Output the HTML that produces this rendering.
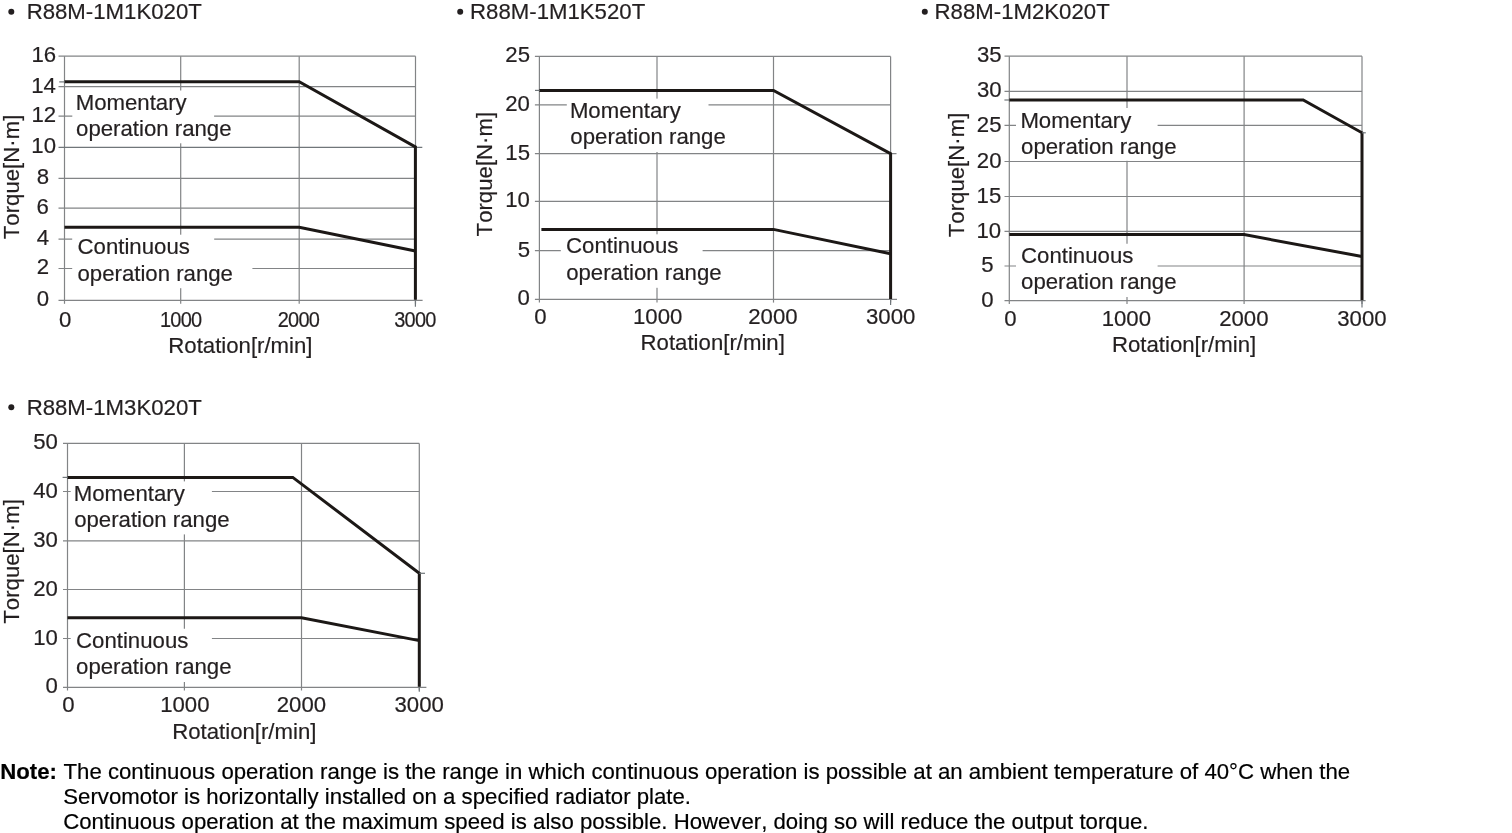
<!DOCTYPE html>
<html><head><meta charset="utf-8"><title>Torque characteristics</title>
<style>
html,body{margin:0;padding:0;background:#fff;}
body{width:1512px;height:833px;overflow:hidden;font-family:"Liberation Sans", sans-serif;}
svg{display:block;font-family:"Liberation Sans", sans-serif;will-change:transform;}
text{font-family:"Liberation Sans", sans-serif;font-kerning:none;stroke-width:0.2px;paint-order:stroke fill;}
</style></head><body>
<svg width="1512" height="833" viewBox="0 0 1512 833">
<rect width="1512" height="833" fill="#fff"/>
<circle cx="11.3" cy="11.8" r="3.0" fill="#231f20"/>
<circle cx="460.2" cy="11.8" r="3.0" fill="#231f20"/>
<circle cx="924.8" cy="11.8" r="3.0" fill="#231f20"/>
<circle cx="11.3" cy="407.3" r="3.0" fill="#231f20"/>
<line x1="64.50" y1="56.20" x2="64.50" y2="303.80" stroke="#828486" stroke-width="1.2"/>
<line x1="180.70" y1="56.20" x2="180.70" y2="303.80" stroke="#828486" stroke-width="1.2"/>
<line x1="299.20" y1="56.20" x2="299.20" y2="303.80" stroke="#828486" stroke-width="1.2"/>
<line x1="415.50" y1="56.20" x2="415.50" y2="303.80" stroke="#828486" stroke-width="1.2"/>
<line x1="58.50" y1="56.20" x2="415.50" y2="56.20" stroke="#828486" stroke-width="1.2"/>
<line x1="58.50" y1="86.65" x2="415.50" y2="86.65" stroke="#828486" stroke-width="1.2"/>
<line x1="58.50" y1="116.15" x2="415.50" y2="116.15" stroke="#828486" stroke-width="1.2"/>
<line x1="58.50" y1="147.35" x2="422.30" y2="147.35" stroke="#70767a" stroke-width="1.2"/>
<line x1="58.50" y1="178.35" x2="415.50" y2="178.35" stroke="#828486" stroke-width="1.2"/>
<line x1="58.50" y1="208.05" x2="415.50" y2="208.05" stroke="#828486" stroke-width="1.2"/>
<line x1="58.50" y1="239.20" x2="415.50" y2="239.20" stroke="#828486" stroke-width="1.2"/>
<line x1="58.50" y1="268.50" x2="415.50" y2="268.50" stroke="#828486" stroke-width="1.2"/>
<line x1="58.50" y1="300.30" x2="422.60" y2="300.30" stroke="#828486" stroke-width="1.2"/>
<rect x="72.3" y="90.5" width="141.8" height="52.8" fill="#fff"/>
<rect x="72.2" y="234.7" width="142" height="28" fill="#fff"/>
<rect x="72.2" y="262" width="180.2" height="26.2" fill="#fff"/>
<polyline points="64.5,81.8 299.2,81.8 415.4,146.9 415.4,299.7" fill="none" stroke="#1c1816" stroke-width="3" stroke-linejoin="miter"/>
<polyline points="64.5,227.2 299.2,227.2 415.4,251" fill="none" stroke="#1c1816" stroke-width="3" stroke-linejoin="miter"/>
<text x="26.68" y="19.20" font-size="22.2" fill="#231f20" stroke="#231f20">R88M-1M1K020T</text>
<text x="75.68" y="109.60" font-size="22.2" fill="#231f20" stroke="#231f20">Momentary</text>
<text x="76.07" y="135.80" font-size="22.2" fill="#231f20" stroke="#231f20">operation range</text>
<text x="77.57" y="254.30" font-size="22.2" fill="#231f20" stroke="#231f20">Continuous</text>
<text x="77.47" y="280.60" font-size="22.2" fill="#231f20" stroke="#231f20">operation range</text>
<text x="19.00" y="239.20" font-size="22.2" fill="#231f20" stroke="#231f20" transform="rotate(-90 19.00 239.20)">Torque[N·m]</text>
<text x="168.28" y="352.60" font-size="22.2" fill="#231f20" stroke="#231f20">Rotation[r/min]</text>
<text x="31.40" y="62.10" font-size="22.2" fill="#231f20" stroke="#231f20">16</text>
<text x="31.23" y="92.55" font-size="22.2" fill="#231f20" stroke="#231f20">14</text>
<text x="31.47" y="122.05" font-size="22.2" fill="#231f20" stroke="#231f20">12</text>
<text x="31.34" y="153.25" font-size="22.2" fill="#231f20" stroke="#231f20">10</text>
<text x="36.63" y="184.25" font-size="22.2" fill="#231f20" stroke="#231f20">8</text>
<text x="36.55" y="213.95" font-size="22.2" fill="#231f20" stroke="#231f20">6</text>
<text x="36.70" y="245.10" font-size="22.2" fill="#231f20" stroke="#231f20">4</text>
<text x="36.63" y="274.40" font-size="22.2" fill="#231f20" stroke="#231f20">2</text>
<text x="36.63" y="306.20" font-size="22.2" fill="#231f20" stroke="#231f20">0</text>
<text x="58.93" y="326.70" font-size="22.2" fill="#231f20" stroke="#231f20">0</text>
<text transform="translate(159.93 326.70) scale(0.9 1)" font-size="22.2" fill="#231f20" stroke="#231f20" letter-spacing="-0.833">1000</text>
<text transform="translate(277.74 326.70) scale(0.9 1)" font-size="22.2" fill="#231f20" stroke="#231f20" letter-spacing="-0.833">2000</text>
<text transform="translate(394.26 326.70) scale(0.9 1)" font-size="22.2" fill="#231f20" stroke="#231f20" letter-spacing="-0.833">3000</text>
<line x1="539.40" y1="56.40" x2="539.40" y2="302.60" stroke="#828486" stroke-width="1.2"/>
<line x1="657.00" y1="56.40" x2="657.00" y2="302.60" stroke="#828486" stroke-width="1.2"/>
<line x1="773.50" y1="56.40" x2="773.50" y2="302.60" stroke="#828486" stroke-width="1.2"/>
<line x1="890.60" y1="56.40" x2="890.60" y2="302.60" stroke="#828486" stroke-width="1.2"/>
<line x1="534.90" y1="56.40" x2="890.60" y2="56.40" stroke="#828486" stroke-width="1.2"/>
<line x1="534.90" y1="104.80" x2="890.60" y2="104.80" stroke="#828486" stroke-width="1.2"/>
<line x1="534.90" y1="153.70" x2="896.50" y2="153.70" stroke="#828486" stroke-width="1.2"/>
<line x1="534.90" y1="201.40" x2="890.60" y2="201.40" stroke="#828486" stroke-width="1.2"/>
<line x1="534.90" y1="250.70" x2="890.60" y2="250.70" stroke="#828486" stroke-width="1.2"/>
<line x1="534.90" y1="299.40" x2="897.00" y2="299.40" stroke="#828486" stroke-width="1.2"/>
<rect x="566.8" y="98.6" width="141.7" height="53.4" fill="#fff"/>
<rect x="560.8" y="234.3" width="141.8" height="53.5" fill="#fff"/>
<polyline points="539.4,90.5 773.5,90.5 890.6,153.7 890.6,299" fill="none" stroke="#1c1816" stroke-width="3" stroke-linejoin="miter"/>
<polyline points="541.4,229.4 773.5,229.4 890.6,253.8" fill="none" stroke="#1c1816" stroke-width="3" stroke-linejoin="miter"/>
<text x="470.08" y="19.10" font-size="22.2" fill="#231f20" stroke="#231f20">R88M-1M1K520T</text>
<text x="569.88" y="117.90" font-size="22.2" fill="#231f20" stroke="#231f20">Momentary</text>
<text x="570.37" y="144.30" font-size="22.2" fill="#231f20" stroke="#231f20">operation range</text>
<text x="566.07" y="253.40" font-size="22.2" fill="#231f20" stroke="#231f20">Continuous</text>
<text x="566.17" y="280.00" font-size="22.2" fill="#231f20" stroke="#231f20">operation range</text>
<text x="491.60" y="236.40" font-size="22.2" fill="#231f20" stroke="#231f20" transform="rotate(-90 491.60 236.40)">Torque[N·m]</text>
<text x="640.58" y="350.10" font-size="22.2" fill="#231f20" stroke="#231f20">Rotation[r/min]</text>
<text x="505.34" y="62.40" font-size="22.2" fill="#231f20" stroke="#231f20">25</text>
<text x="505.27" y="110.80" font-size="22.2" fill="#231f20" stroke="#231f20">20</text>
<text x="505.34" y="159.70" font-size="22.2" fill="#231f20" stroke="#231f20">15</text>
<text x="505.27" y="207.40" font-size="22.2" fill="#231f20" stroke="#231f20">10</text>
<text x="517.69" y="256.70" font-size="22.2" fill="#231f20" stroke="#231f20">5</text>
<text x="517.62" y="305.40" font-size="22.2" fill="#231f20" stroke="#231f20">0</text>
<text x="534.23" y="323.75" font-size="22.2" fill="#231f20" stroke="#231f20">0</text>
<text x="632.99" y="323.75" font-size="22.2" fill="#231f20" stroke="#231f20">1000</text>
<text x="748.23" y="323.75" font-size="22.2" fill="#231f20" stroke="#231f20">2000</text>
<text x="865.97" y="323.75" font-size="22.2" fill="#231f20" stroke="#231f20">3000</text>
<line x1="1009.30" y1="56.20" x2="1009.30" y2="303.90" stroke="#828486" stroke-width="1.2"/>
<line x1="1127.00" y1="56.20" x2="1127.00" y2="303.90" stroke="#828486" stroke-width="1.2"/>
<line x1="1244.10" y1="56.20" x2="1244.10" y2="303.90" stroke="#828486" stroke-width="1.2"/>
<line x1="1362.00" y1="56.20" x2="1362.00" y2="303.90" stroke="#828486" stroke-width="1.2"/>
<line x1="1004.50" y1="56.20" x2="1362.00" y2="56.20" stroke="#828486" stroke-width="1.2"/>
<line x1="1004.50" y1="91.30" x2="1362.00" y2="91.30" stroke="#828486" stroke-width="1.2"/>
<line x1="1004.50" y1="125.40" x2="1362.00" y2="125.40" stroke="#828486" stroke-width="1.2"/>
<line x1="1004.50" y1="161.50" x2="1362.00" y2="161.50" stroke="#828486" stroke-width="1.2"/>
<line x1="1004.50" y1="196.50" x2="1362.00" y2="196.50" stroke="#828486" stroke-width="1.2"/>
<line x1="1004.50" y1="231.40" x2="1362.00" y2="231.40" stroke="#828486" stroke-width="1.2"/>
<line x1="1004.50" y1="266.00" x2="1362.00" y2="266.00" stroke="#828486" stroke-width="1.2"/>
<line x1="1004.50" y1="300.70" x2="1365.60" y2="300.70" stroke="#828486" stroke-width="1.2"/>
<rect x="1016" y="108" width="141.6" height="52.8" fill="#fff"/>
<rect x="1016" y="243.75" width="141.6" height="53.25" fill="#fff"/>
<polyline points="1009.3,100 1303.2,100 1362,132.8 1362,300.2" fill="none" stroke="#1c1816" stroke-width="3" stroke-linejoin="miter"/>
<polyline points="1009.3,234.6 1244.1,234.6 1362,256.5" fill="none" stroke="#1c1816" stroke-width="3" stroke-linejoin="miter"/>
<text x="934.58" y="19.10" font-size="22.2" fill="#231f20" stroke="#231f20">R88M-1M2K020T</text>
<text x="1020.38" y="127.50" font-size="22.2" fill="#231f20" stroke="#231f20">Momentary</text>
<text x="1021.07" y="153.90" font-size="22.2" fill="#231f20" stroke="#231f20">operation range</text>
<text x="1021.07" y="262.80" font-size="22.2" fill="#231f20" stroke="#231f20">Continuous</text>
<text x="1021.07" y="289.20" font-size="22.2" fill="#231f20" stroke="#231f20">operation range</text>
<text x="963.60" y="237.20" font-size="22.2" fill="#231f20" stroke="#231f20" transform="rotate(-90 963.60 237.20)">Torque[N·m]</text>
<text x="1111.93" y="351.90" font-size="22.2" fill="#231f20" stroke="#231f20">Rotation[r/min]</text>
<text x="977.00" y="62.30" font-size="22.2" fill="#231f20" stroke="#231f20">35</text>
<text x="976.96" y="97.40" font-size="22.2" fill="#231f20" stroke="#231f20">30</text>
<text x="976.86" y="131.50" font-size="22.2" fill="#231f20" stroke="#231f20">25</text>
<text x="976.83" y="167.60" font-size="22.2" fill="#231f20" stroke="#231f20">20</text>
<text x="976.57" y="202.60" font-size="22.2" fill="#231f20" stroke="#231f20">15</text>
<text x="976.54" y="237.50" font-size="22.2" fill="#231f20" stroke="#231f20">10</text>
<text x="981.35" y="272.10" font-size="22.2" fill="#231f20" stroke="#231f20">5</text>
<text x="981.33" y="306.80" font-size="22.2" fill="#231f20" stroke="#231f20">0</text>
<text x="1004.23" y="325.80" font-size="22.2" fill="#231f20" stroke="#231f20">0</text>
<text x="1101.69" y="325.80" font-size="22.2" fill="#231f20" stroke="#231f20">1000</text>
<text x="1219.13" y="325.80" font-size="22.2" fill="#231f20" stroke="#231f20">2000</text>
<text x="1337.22" y="325.80" font-size="22.2" fill="#231f20" stroke="#231f20">3000</text>
<line x1="67.50" y1="443.40" x2="67.50" y2="690.50" stroke="#828486" stroke-width="1.2"/>
<line x1="184.40" y1="443.40" x2="184.40" y2="690.50" stroke="#828486" stroke-width="1.2"/>
<line x1="301.50" y1="443.40" x2="301.50" y2="690.50" stroke="#828486" stroke-width="1.2"/>
<line x1="419.30" y1="443.40" x2="419.30" y2="690.50" stroke="#828486" stroke-width="1.2"/>
<line x1="63.00" y1="443.40" x2="419.30" y2="443.40" stroke="#828486" stroke-width="1.2"/>
<line x1="63.00" y1="491.50" x2="419.30" y2="491.50" stroke="#828486" stroke-width="1.2"/>
<line x1="63.00" y1="540.90" x2="419.30" y2="540.90" stroke="#828486" stroke-width="1.2"/>
<line x1="63.00" y1="589.50" x2="419.30" y2="589.50" stroke="#828486" stroke-width="1.2"/>
<line x1="63.00" y1="638.50" x2="419.30" y2="638.50" stroke="#828486" stroke-width="1.2"/>
<line x1="63.00" y1="687.30" x2="426.40" y2="687.30" stroke="#828486" stroke-width="1.2"/>
<rect x="70.7" y="481.4" width="141.2" height="53" fill="#fff"/>
<rect x="70.7" y="628.75" width="141.2" height="53.25" fill="#fff"/>
<polyline points="67.5,477.4 292.8,477.4 419.3,573.3 419.3,686.8" fill="none" stroke="#1c1816" stroke-width="3" stroke-linejoin="miter"/>
<polyline points="67.5,617.7 301.5,617.7 419.3,640.6" fill="none" stroke="#1c1816" stroke-width="3" stroke-linejoin="miter"/>
<text x="26.68" y="414.70" font-size="22.2" fill="#231f20" stroke="#231f20">R88M-1M3K020T</text>
<text x="73.78" y="500.80" font-size="22.2" fill="#231f20" stroke="#231f20">Momentary</text>
<text x="74.17" y="527.10" font-size="22.2" fill="#231f20" stroke="#231f20">operation range</text>
<text x="76.07" y="647.80" font-size="22.2" fill="#231f20" stroke="#231f20">Continuous</text>
<text x="76.07" y="674.20" font-size="22.2" fill="#231f20" stroke="#231f20">operation range</text>
<text x="19.00" y="623.70" font-size="22.2" fill="#231f20" stroke="#231f20" transform="rotate(-90 19.00 623.70)">Torque[N·m]</text>
<text x="172.18" y="738.75" font-size="22.2" fill="#231f20" stroke="#231f20">Rotation[r/min]</text>
<text x="33.17" y="449.40" font-size="22.2" fill="#231f20" stroke="#231f20">50</text>
<text x="33.17" y="497.50" font-size="22.2" fill="#231f20" stroke="#231f20">40</text>
<text x="33.17" y="546.90" font-size="22.2" fill="#231f20" stroke="#231f20">30</text>
<text x="33.17" y="595.50" font-size="22.2" fill="#231f20" stroke="#231f20">20</text>
<text x="33.17" y="644.50" font-size="22.2" fill="#231f20" stroke="#231f20">10</text>
<text x="45.52" y="693.30" font-size="22.2" fill="#231f20" stroke="#231f20">0</text>
<text x="62.23" y="712.20" font-size="22.2" fill="#231f20" stroke="#231f20">0</text>
<text x="160.19" y="712.20" font-size="22.2" fill="#231f20" stroke="#231f20">1000</text>
<text x="276.73" y="712.20" font-size="22.2" fill="#231f20" stroke="#231f20">2000</text>
<text x="394.52" y="712.20" font-size="22.2" fill="#231f20" stroke="#231f20">3000</text>
<line x1="419.30" y1="573.30" x2="425.00" y2="573.30" stroke="#70767a" stroke-width="1.2"/>
<line x1="59.20" y1="81.90" x2="64.50" y2="81.90" stroke="#70767a" stroke-width="1.2"/>
<line x1="415.40" y1="300.00" x2="415.40" y2="306.80" stroke="#70767a" stroke-width="1.2"/>
<line x1="890.60" y1="299.50" x2="890.60" y2="305.00" stroke="#70767a" stroke-width="1.2"/>
<line x1="1362.00" y1="300.50" x2="1362.00" y2="307.50" stroke="#70767a" stroke-width="1.2"/>
<line x1="419.30" y1="687.00" x2="419.30" y2="691.80" stroke="#70767a" stroke-width="1.2"/>
<line x1="535.00" y1="90.40" x2="539.50" y2="90.40" stroke="#70767a" stroke-width="1.2"/>
<line x1="1004.40" y1="100.00" x2="1009.20" y2="100.00" stroke="#70767a" stroke-width="1.2"/>
<line x1="1362.00" y1="132.80" x2="1365.80" y2="132.80" stroke="#70767a" stroke-width="1.2"/>
<line x1="62.60" y1="477.40" x2="67.70" y2="477.40" stroke="#70767a" stroke-width="1.2"/>
<text x="0.2" y="778.8" font-size="22.2" fill="#000" stroke="#000" font-weight="bold">Note:</text>
<text x="63.50" y="778.80" font-size="22.2" fill="#000" stroke="#000">The continuous operation range is the range in which continuous operation is possible at an ambient temperature of 40°C when the</text>
<text x="63.29" y="803.80" font-size="22.2" fill="#000" stroke="#000">Servomotor is horizontally installed on a specified radiator plate.</text>
<text x="63.17" y="828.70" font-size="22.2" fill="#000" stroke="#000">Continuous operation at the maximum speed is also possible. However, doing so will reduce the output torque.</text>
</svg>
</body></html>
